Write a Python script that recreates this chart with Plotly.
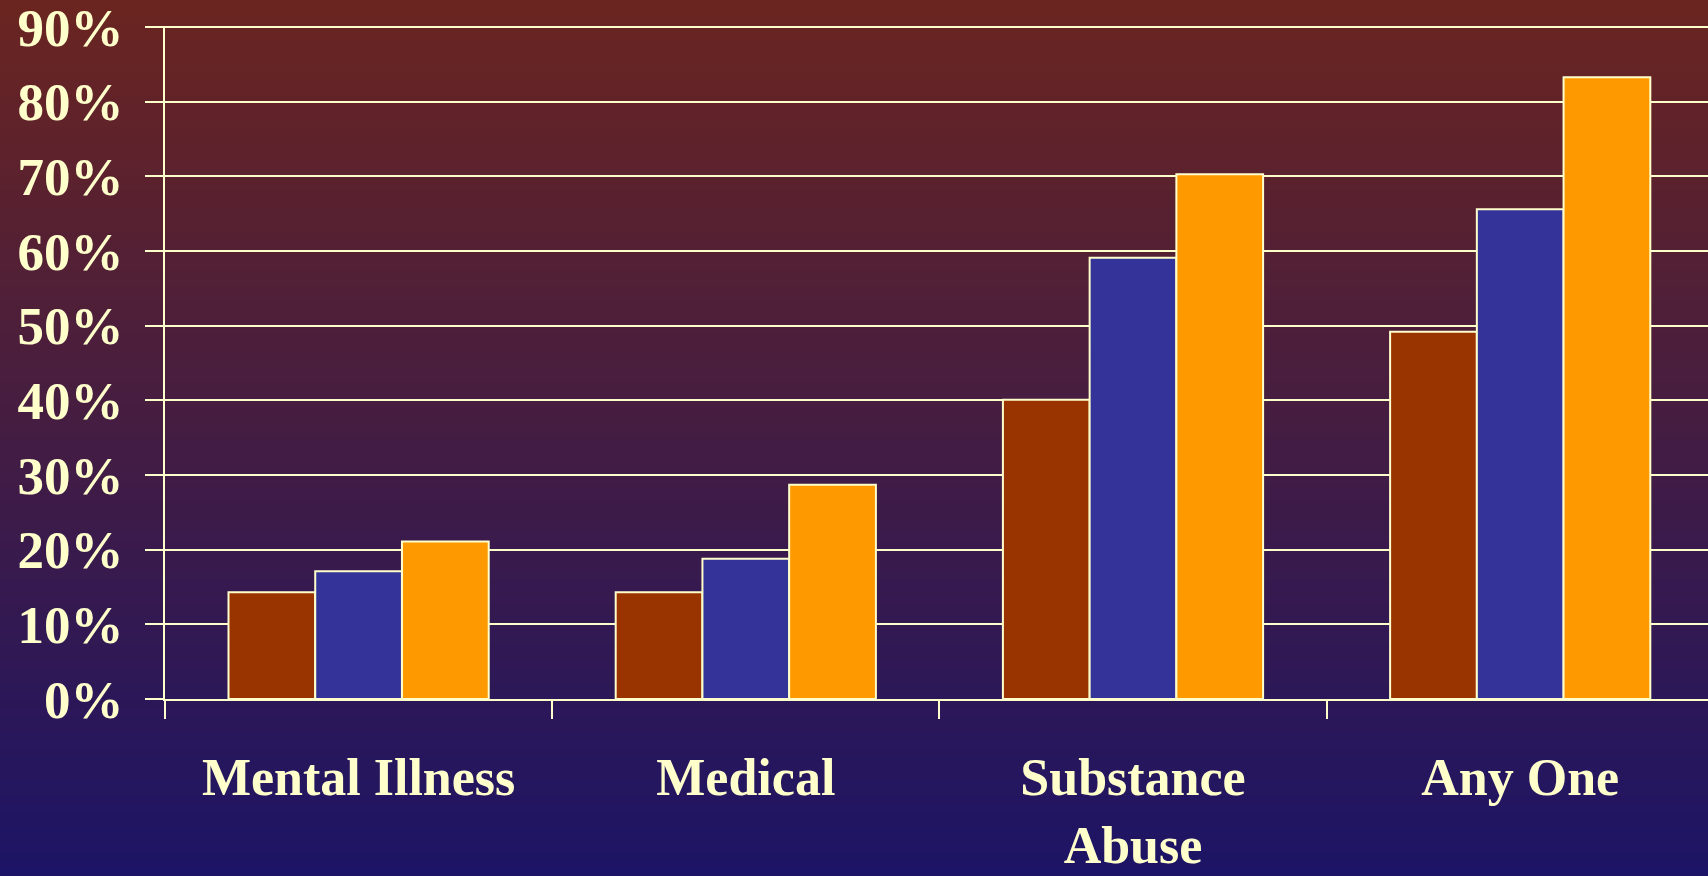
import plotly.graph_objects as go

categories = ["Mental Illness", "Medical", "Substance<br>Abuse", "Any One"]
series_a = [14.3, 14.3, 40.1, 49.2]
series_b = [17.1, 18.8, 59.1, 65.6]
series_c = [21.1, 28.7, 70.3, 83.3]
y_ticks = [0, 10, 20, 30, 40, 50, 60, 70, 80, 90]
y_tick_labels = [f"{v}%" for v in y_ticks]

W, H = 1708, 876
L, R, T, B = 165, 0, 26, 177
CREAM = "#FFFFCC"
FONT = "Liberation Serif"

fig = go.Figure()
for vals, col in [(series_a, "#993300"), (series_b, "#333399"), (series_c, "#FF9900")]:
    fig.add_trace(go.Bar(x=categories, y=vals, marker=dict(color=col, line=dict(color=CREAM, width=2))))

# vertical gradient background
top = (107, 37, 32)
bot = (28, 20, 102)
N = 110
pw = W - L - R
ph = H - T - B
shapes = []
for i in range(N):
    f0 = i / N
    f1 = (i + 1) / N
    c = tuple(int(round(top[k] + (bot[k] - top[k]) * (f0 + f1) / 2)) for k in range(3))
    py0 = f0 * H
    py1 = f1 * H + 1
    shapes.append(dict(
        type="rect", xref="paper", yref="paper", layer="below",
        x0=-L / pw, x1=1 + (R + 2) / pw,
        y0=(H - B - py1) / ph, y1=(H - B - py0) / ph,
        fillcolor="rgb(%d,%d,%d)" % c, line=dict(width=0),
    ))

fig.update_layout(
    width=W, height=H,
    margin=dict(l=L, r=R, t=T, b=B, pad=0, autoexpand=False),
    paper_bgcolor="rgba(0,0,0,0)",
    plot_bgcolor="rgba(0,0,0,0)",
    showlegend=False,
    barmode="group", bargap=0.328, bargroupgap=0,
    shapes=shapes,
    font=dict(family=FONT, color=CREAM, size=50),
    xaxis=dict(
        range=[-0.5, 3.485], tickson="boundaries", ticks="outside", ticklen=18,
        tickwidth=2, tickcolor=CREAM, showline=True, linecolor=CREAM, linewidth=2,
        showgrid=False, zeroline=False, ticklabelstandoff=32, automargin=False,
        ticklabeloverflow="allow",
        tickfont=dict(family=FONT, color=CREAM, size=52, weight="bold"),
    ),
    yaxis=dict(
        range=[0, 90.15], tickvals=y_ticks, ticktext=y_tick_labels, ticks="outside",
        ticklen=18, tickwidth=2, tickcolor=CREAM, showline=True, linecolor=CREAM,
        linewidth=2, showgrid=True, gridcolor=CREAM, gridwidth=2, zeroline=False,
        ticklabelstandoff=11, ticklabeloverflow="allow", automargin=False,
        tickfont=dict(family=FONT, color=CREAM, size=53, weight="bold"),
    ),
)

fig.write_html("out.html")
